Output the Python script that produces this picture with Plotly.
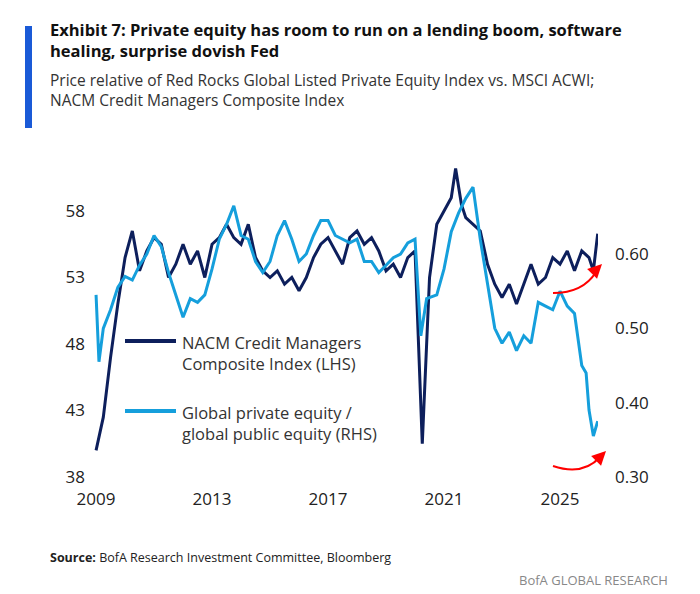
import plotly.graph_objects as go

nacm_x = [2009.0,2009.25,2009.5,2009.75,2010.0,2010.25,2010.5,2010.75,2011.0,2011.25,2011.5,2011.75,2012.0,2012.25,2012.5,2012.75,2013.0,2013.25,2013.5,2013.75,2014.0,2014.25,2014.5,2014.75,2015.0,2015.25,2015.5,2015.75,2016.0,2016.25,2016.5,2016.75,2017.0,2017.25,2017.5,2017.75,2018.0,2018.25,2018.5,2018.75,2019.0,2019.25,2019.5,2019.75,2020.0,2020.25,2020.5,2020.75,2021.0,2021.25,2021.4,2021.6,2021.75,2022.0,2022.25,2022.5,2022.75,2023.0,2023.25,2023.5,2023.75,2024.0,2024.25,2024.5,2024.75,2025.0,2025.25,2025.5,2025.75,2026.0,2026.15,2026.3]
nacm_y = [40,42.5,47,51,54.5,56.5,53.5,55,56,55.5,53,54,55.5,54,55,53,55.5,56,57,56,55.5,57,54.5,53.5,53,53.5,52.5,53,52,53,54.5,55.5,56,55,54,56,56.5,55.5,56,55,53.5,54,53,54.5,55,40.5,53,57,58,59,61.2,58.5,57.5,57,56.5,54,52.5,51.5,52.5,51,52.5,54,52.5,53,54.5,54,55,53.5,55,54.5,53.5,56.3]
pe_x = [2009.0,2009.1,2009.25,2009.5,2009.75,2010.0,2010.25,2010.5,2010.75,2011.0,2011.25,2011.5,2011.75,2012.0,2012.25,2012.5,2012.75,2013.0,2013.25,2013.5,2013.75,2014.0,2014.25,2014.5,2014.75,2015.0,2015.25,2015.5,2015.75,2016.0,2016.25,2016.5,2016.75,2017.0,2017.25,2017.5,2017.75,2018.0,2018.25,2018.5,2018.75,2019.0,2019.25,2019.5,2019.75,2020.0,2020.2,2020.4,2020.75,2021.0,2021.25,2021.5,2021.75,2022.0,2022.25,2022.5,2022.75,2023.0,2023.25,2023.5,2023.75,2024.0,2024.25,2024.5,2024.75,2025.0,2025.25,2025.5,2025.75,2025.9,2026.0,2026.15,2026.3]
pe_y = [0.545,0.455,0.50,0.525,0.555,0.57,0.565,0.585,0.60,0.625,0.61,0.575,0.545,0.515,0.54,0.535,0.545,0.58,0.62,0.64,0.665,0.625,0.62,0.59,0.575,0.59,0.625,0.645,0.62,0.59,0.60,0.625,0.645,0.645,0.625,0.62,0.615,0.62,0.59,0.59,0.575,0.585,0.595,0.60,0.615,0.62,0.49,0.54,0.545,0.58,0.63,0.655,0.675,0.69,0.62,0.56,0.50,0.48,0.495,0.47,0.49,0.48,0.535,0.53,0.525,0.55,0.53,0.52,0.45,0.44,0.39,0.355,0.375]
x_ticks = [2009, 2013, 2017, 2021, 2025]
lhs_ticks = [38, 43, 48, 53, 58]
rhs_ticks = [0.30, 0.40, 0.50, 0.60]

DARK = "#0d1f5c"
LIGHT = "#159fdc"
L, R, T, B = 84, 110, 153, 123
W, H = 700, 594
PW, PH = W - L - R, H - T - B
def px(x): return (x - L) / PW
def py(y): return (H - B - y) / PH

fig = go.Figure()
fig.add_trace(go.Scatter(x=nacm_x, y=nacm_y, mode="lines", line=dict(color=DARK, width=3), yaxis="y"))
fig.add_trace(go.Scatter(x=pe_x, y=pe_y, mode="lines", line=dict(color=LIGHT, width=3), yaxis="y2"))

tf = dict(family="Open Sans", size=17, color="#222")
fig.update_layout(
    width=W, height=H, margin=dict(l=L, r=R, t=T, b=B),
    paper_bgcolor="white", plot_bgcolor="white", showlegend=False,
    font=dict(family="Open Sans"),
    xaxis=dict(range=[2008.86, 2026.31], tickvals=x_ticks, showgrid=False, zeroline=False,
               showline=False, ticks="", tickfont=tf, ticklabelstandoff=8),
    yaxis=dict(range=[37.85, 61.76], tickvals=lhs_ticks, showgrid=False, zeroline=False, tickfont=tf,
               ticklabelstandoff=6),
    yaxis2=dict(range=[0.2973, 0.7252], tickvals=rhs_ticks, tickformat=".2f", overlaying="y", side="right",
                showgrid=False, zeroline=False, tickfont=tf, ticklabelstandoff=16),
)
shapes = [
    dict(type="rect", xref="paper", yref="paper", x0=px(17), x1=px(24), y0=py(120), y1=py(18),
         fillcolor="#1a5ad7", line=dict(width=0)),
    dict(type="line", xref="paper", yref="paper", x0=px(117), x1=px(168), y0=py(333), y1=py(333),
         line=dict(color=DARK, width=4)),
    dict(type="line", xref="paper", yref="paper", x0=px(117), x1=px(168), y0=py(403), y1=py(403),
         line=dict(color=LIGHT, width=4)),
    dict(type="path", xref="paper", yref="paper",
         path=f"M {px(545)},{py(285)} Q {px(575)},{py(285)} {px(588)},{py(264)}",
         line=dict(color="red", width=2)),
    dict(type="path", xref="paper", yref="paper",
         path=f"M {px(545)},{py(458)} Q {px(575)},{py(468)} {px(592)},{py(449)}",
         line=dict(color="red", width=2)),
]
fig.update_layout(shapes=shapes)
ann = [
    dict(x=px(40), y=py(32), text="<b>Exhibit 7: Private equity has room to run on a lending boom, software<br>healing, surprise dovish Fed</b>",
         font=dict(size=16.5, color="#111")),
    dict(x=px(40), y=py(82), text="Price relative of Red Rocks Global Listed Private Equity Index vs. MSCI ACWI;<br>NACM Credit Managers Composite Index",
         font=dict(size=15.5, color="#333")),
    dict(x=px(172), y=py(345), text="NACM Credit Managers<br>Composite Index (LHS)", font=dict(size=16.5, color="#333")),
    dict(x=px(172), y=py(415), text="Global private equity /<br>global public equity (RHS)", font=dict(size=16.5, color="#333")),
    dict(x=px(40), y=py(549), text="<b>Source:</b> BofA Research Investment Committee, Bloomberg", font=dict(size=12.5, color="#222")),
    dict(x=px(662), y=py(572), text="BofA GLOBAL RESEARCH", xanchor="right", font=dict(size=13, color="#888")),
]
for a in ann:
    a.setdefault("xanchor", "left")
    a.update(xref="paper", yref="paper", yanchor="middle", showarrow=False, align="left")
for (x, y) in [(px(594), py(256)), (px(598), py(443))]:
    ann.append(dict(x=x, y=y, xref="paper", yref="paper", ax=-8, ay=8, showarrow=True,
                    arrowhead=2, arrowsize=1.4, arrowwidth=2, arrowcolor="red", text=""))
fig.update_layout(annotations=ann)
fig.write_html("out.html")
